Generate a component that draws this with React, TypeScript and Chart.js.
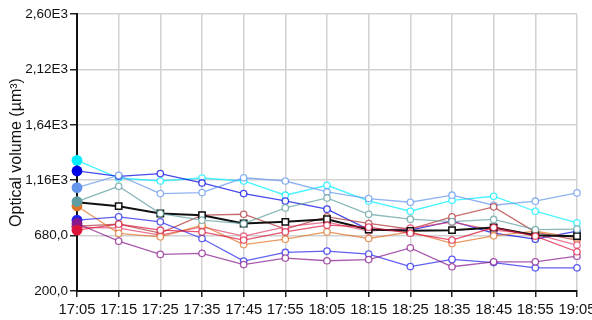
import React, { useEffect, useRef } from "react";
import { Chart, registerables } from "chart.js";

Chart.register(...registerables);

// Sampling times along the x axis
const timeLabels = [
  "17:05", "17:15", "17:25", "17:35", "17:45", "17:55", "18:05",
  "18:15", "18:25", "18:35", "18:45", "18:55", "19:05",
];

// Printed y tick labels (200 to 2600 in steps of 480)
const yTickLabels = ["200,0", "680,0", "1,16E3", "1,64E3", "2,12E3", "2,60E3"];

// Optical volume per cell (µm³)
const cellCyan = [1332, 1179, 1153, 1179, 1153, 1030, 1116, 980, 891, 986, 1021, 891, 790];
const cellCornflower = [1096, 1202, 1044, 1053, 1181, 1153, 1058, 1001, 969, 1030, 943, 978, 1050];
const cellBlue = [1240, 1194, 1217, 1136, 1044, 980, 909, 733, 727, 805, 701, 649, 719];
const cellTeal = [975, 1107, 871, 814, 783, 920, 1006, 865, 822, 801, 820, 731, 736];
const cellMean = [969, 935, 871, 857, 785, 799, 822, 733, 721, 727, 750, 684, 675];
const cellOrange = [937, 699, 669, 770, 602, 649, 712, 655, 712, 612, 678, 719, 661];
const cellBlueDeep = [814, 842, 799, 655, 459, 534, 546, 520, 412, 474, 446, 401, 401];
const cellPurple = [785, 632, 517, 526, 429, 485, 462, 472, 574, 410, 453, 453, 502];
const cellBrown = [762, 779, 701, 857, 865, 736, 842, 785, 736, 842, 929, 710, 641];
const cellCrimson = [727, 779, 727, 712, 641, 712, 770, 753, 701, 641, 750, 675, 540];
const cellPink = [753, 744, 684, 756, 675, 756, 796, 719, 744, 796, 727, 693, 598];

const FONT = "'Liberation Sans', Arial, Helvetica, sans-serif";

// Colored cell trace: first sample is a large filled dot, the rest hollow rings
function cellSeries(label: string, data: number[], rgb: string) {
  const n = data.length;
  const solid = `rgb(${rgb})`;
  const soft = `rgba(${rgb},0.72)`;
  return {
    label,
    data,
    borderColor: soft,
    borderWidth: 1.3,
    tension: 0,
    clip: false as const,
    pointStyle: "circle" as const,
    pointRadius: Array.from({ length: n }, (_, i) => (i === 0 ? 5.4 : 3.2)),
    pointBackgroundColor: Array.from({ length: n }, (_, i) => (i === 0 ? solid : "#ffffff")),
    pointBorderColor: Array.from({ length: n }, (_, i) => (i === 0 ? solid : soft)),
    pointBorderWidth: Array.from({ length: n }, (_, i) => (i === 0 ? 0 : 1.3)),
  };
}

export default function App() {
  const canvasRef = useRef<HTMLCanvasElement | null>(null);

  useEffect(() => {
    const canvas = canvasRef.current;
    if (!canvas) return;
    const n = timeLabels.length;

    const meanSeries = {
      label: "Mean",
      data: cellMean,
      borderColor: "#111111",
      borderWidth: 2,
      tension: 0,
      clip: false as const,
      pointStyle: "rect" as const,
      pointRadius: Array.from({ length: n }, (_, i) => (i === 0 ? 0 : 4.5)),
      pointBackgroundColor: "#ffffff",
      pointBorderColor: "#111111",
      pointBorderWidth: 1.5,
    };

    const chart = new Chart(canvas, {
      type: "line",
      data: {
        labels: timeLabels,
        datasets: [
          cellSeries("Cell 9", cellCrimson, "220,20,60"),
          cellSeries("Cell 8", cellPurple, "135,25,140"),
          cellSeries("Cell 7", cellBlueDeep, "35,35,235"),
          cellSeries("Cell 4", cellTeal, "95,158,160"),
          meanSeries,
          cellSeries("Cell 6", cellOrange, "225,115,40"),
          cellSeries("Cell 11", cellPink, "225,65,105"),
          cellSeries("Cell 10", cellBrown, "175,50,50"),
          cellSeries("Cell 3", cellCornflower, "100,149,237"),
          cellSeries("Cell 2", cellBlue, "0,0,230"),
          cellSeries("Cell 1", cellCyan, "0,240,255"),
        ],
      },
      options: {
        responsive: false,
        animation: false,
        devicePixelRatio: 1,
        layout: {
          autoPadding: false,
          padding: { top: 14, right: 15, left: 0, bottom: 0 },
        },
        plugins: {
          legend: { display: false },
          tooltip: { enabled: false },
        },
        scales: {
          x: {
            type: "category",
            offset: false,
            border: { display: true, color: "#111111", width: 2 },
            grid: {
              color: "#d2d2d2",
              lineWidth: 1.5,
              drawTicks: true,
              tickLength: 6,
              tickColor: "#222222",
              tickWidth: 1.5,
            },
            ticks: {
              autoSkip: false,
              maxRotation: 0,
              padding: 4,
              color: "#111111",
              font: { family: FONT, size: 14.8 },
            },
            afterFit: (scale: any) => {
              // let the last time label run off the canvas edge
              scale.height = 29;
              scale.paddingLeft = 0;
              scale.paddingRight = 0;
            },
          },
          y: {
            type: "linear",
            min: 200,
            max: 2600,
            border: { display: true, color: "#111111", width: 2 },
            grid: {
              color: "#d2d2d2",
              lineWidth: 1.5,
              drawTicks: true,
              tickLength: 7,
              tickColor: "#222222",
              tickWidth: 1.5,
            },
            ticks: {
              stepSize: 480,
              padding: 2,
              color: "#111111",
              font: { family: FONT, size: 13.5 },
              callback: (_value: any, index: number) => yTickLabels[index],
            },
            title: {
              display: true,
              text: "Optical volume (µm³)",
              color: "#111111",
              font: { family: FONT, size: 16 },
              padding: { top: 7.4, bottom: 0 },
            },
            afterFit: (scale: any) => {
              scale.width = 77;
              scale.paddingTop = 0;
              scale.paddingBottom = 0;
            },
          },
        },
      },
    });

    return () => chart.destroy();
  }, []);

  return (
    <div style={{ position: "absolute", left: 0, top: 0, width: 592, height: 320, background: "#ffffff" }}>
      <canvas ref={canvasRef} width={592} height={320} style={{ display: "block" }} />
    </div>
  );
}
